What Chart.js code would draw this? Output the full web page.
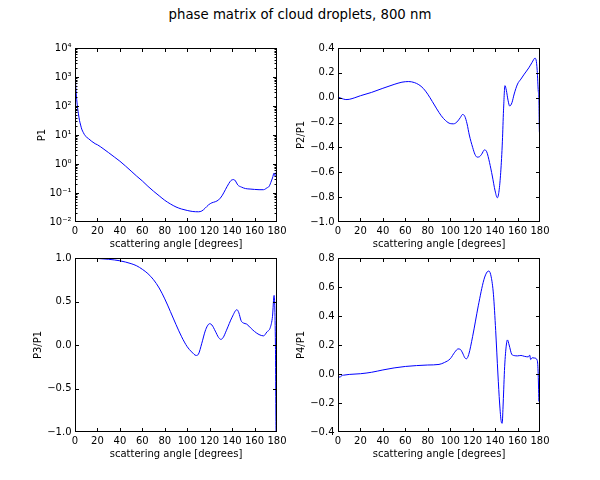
<!DOCTYPE html>
<html>
<head>
<meta charset="utf-8">
<script src="https://cdn.jsdelivr.net/npm/chart.js@4.4.1/dist/chart.umd.min.js"></script>
<style>
html,body{margin:0;padding:0;background:#fff;}
#wrap{position:relative;width:600px;height:480px;background:#fff;overflow:hidden;}
#wrap canvas{position:absolute;left:0;top:0;}
#suptitle{position:absolute;left:0;top:7px;width:600px;text-align:center;font:13.3px/16px "DejaVu Sans";color:#000;}
</style>
</head>
<body>
<div id="wrap">
<div id="suptitle">phase matrix of cloud droplets, 800 nm</div>
<canvas id="c1" width="600" height="480"></canvas>
<canvas id="c2" width="600" height="480"></canvas>
<canvas id="c3" width="600" height="480"></canvas>
<canvas id="c4" width="600" height="480"></canvas>
</div>
<script>
// ---------- data ----------
const xTickValues = [0, 20, 40, 60, 80, 100, 120, 140, 160, 180];
const xTitle = 'scattering angle [degrees]';

const p1Angle = [0,0.5,1,2,3,4,5,6,7.5,9,12,15,18,20,25,30,35,40,45,50,55,60,65,70,75,80,85,90,95,100,105,110,113,116,119,122,125,128,131,134,137,139,141.5,143,145,148.3,152,156,160,164,168,171,173,175,176,177.4,178.3,178.9,179.5,180];
const p1Value = [3000,700,300,110,56,32,22,16,12,9.5,7.5,6,5,4.6,3.4,2.45,1.75,1.25,0.85,0.57,0.38,0.26,0.17,0.115,0.08,0.056,0.042,0.033,0.028,0.025,0.023,0.0225,0.024,0.03,0.039,0.046,0.05,0.058,0.08,0.13,0.21,0.27,0.29,0.26,0.19,0.16,0.142,0.137,0.133,0.13,0.13,0.15,0.17,0.26,0.33,0.49,0.38,0.37,0.56,0.45];
const p1Decades = [-2, -1, 0, 1, 2, 3, 4];
const p1TickLabels = ['10\u207B\u00B2','10\u207B\u00B9','10\u2070','10\u00B9','10\u00B2','10\u00B3','10\u2074'];

const p2Angle = [0,3,7,10,15,20,30,40,50,57,63,68,72,76,80,84,88,92,96,100,103,106,109,111,113,115,117,120,122,124,126,128,130.5,132.5,135,137.5,140,142,143.5,145,146.5,147.5,148.8,150,151.5,153,155,157,160,163,166,170,173,175.5,176.5,177.5,178.5,179,179.5,180];
const p2Value = [0.005,-0.005,-0.015,-0.013,0.0,0.016,0.043,0.076,0.107,0.125,0.13,0.122,0.105,0.075,0.028,-0.03,-0.09,-0.145,-0.185,-0.208,-0.21,-0.195,-0.16,-0.135,-0.15,-0.21,-0.3,-0.4,-0.455,-0.478,-0.475,-0.455,-0.42,-0.435,-0.52,-0.63,-0.75,-0.805,-0.75,-0.6,-0.35,-0.1,0.097,0.06,-0.02,-0.067,-0.04,0.03,0.11,0.15,0.19,0.24,0.285,0.318,0.305,0.22,0.05,0.0,-0.28,-0.28];
const p2Ticks = [0.4, 0.2, 0.0, -0.2, -0.4, -0.6, -0.8, -1.0];

const p3Angle = [0,10,20,30,40,50,55,60,65,70,75,80,85,90,95,100,104,108,110,113,116,118,120,122,125,128,130,132,135,140,144.3,146,148,150,153,157,160,164,168,171,174,176,177.4,178,178.6,179.2,180];
const p3Value = [1.0,1.0,0.995,0.985,0.968,0.935,0.91,0.87,0.82,0.75,0.655,0.53,0.385,0.235,0.095,-0.02,-0.08,-0.12,-0.105,0.02,0.16,0.22,0.245,0.23,0.16,0.085,0.065,0.085,0.17,0.32,0.406,0.37,0.28,0.253,0.24,0.19,0.155,0.12,0.105,0.15,0.2,0.33,0.57,0.45,0.0,-1.0,-1.0];
const p3Ticks = [1.0, 0.5, 0.0, -0.5, -1.0];

const p4Angle = [0,1,2,3,5,10,20,30,40,50,60,70,80,90,95,100,104,107,109,111,113,114.5,116.5,120,125,130,133,134.5,136.5,138.5,140.5,142.5,144,145.5,146.3,147.2,148.5,150,151,152.5,154.8,157,160,163,166,169.5,170.8,171.7,173,175.3,177.5,178.3,179];
const p4Value = [0.0,-0.02,-0.022,-0.012,-0.008,-0.003,0.002,0.012,0.028,0.042,0.052,0.058,0.062,0.066,0.08,0.105,0.15,0.173,0.17,0.145,0.112,0.105,0.135,0.26,0.47,0.65,0.705,0.71,0.67,0.55,0.3,0.0,-0.2,-0.33,-0.34,-0.2,0.05,0.2,0.235,0.2,0.136,0.127,0.125,0.128,0.122,0.118,0.13,0.1,0.112,0.11,0.095,0.02,-0.19];
const p4Ticks = [0.8, 0.6, 0.4, 0.2, 0.0, -0.2, -0.4];

// ---------- helpers ----------
Chart.defaults.font.family = '"DejaVu Sans", sans-serif';
Chart.defaults.font.size = 10;
Chart.defaults.color = '#000';

function fmt1(v) {
  const s = Math.abs(v) < 1e-9 ? '0.0' : v.toFixed(1);
  return s.replace('-', '\u2212');
}

const frameTicks = {
  id: 'frameTicks',
  afterDatasetsDraw(chart) {
    const {ctx, chartArea: a, scales} = chart;
    const L = Math.round(a.left) + 0.5, R = Math.round(a.right) - 0.5;
    const T = Math.round(a.top) + 0.5, B = Math.round(a.bottom) - 0.5;
    ctx.save();
    ctx.strokeStyle = '#000';
    ctx.lineWidth = 1;
    ctx.beginPath();
    scales.x.ticks.forEach(t => {
      const p = Math.round(scales.x.getPixelForValue(t.value)) + 0.5;
      if (p <= L + 0.1 || p >= R - 0.1) return;
      ctx.moveTo(p, B); ctx.lineTo(p, B - 3.5);
      ctx.moveTo(p, T); ctx.lineTo(p, T + 3.5);
    });
    scales.y.ticks.forEach(t => {
      const p = Math.round(scales.y.getPixelForValue(t.value)) + 0.5;
      if (p <= T + 0.1 || p >= B - 0.1) return;
      const len = t.minor ? 2 : 3.5;
      ctx.moveTo(L, p); ctx.lineTo(L + len, p);
      ctx.moveTo(R, p); ctx.lineTo(R - len, p);
    });
    ctx.stroke();
    ctx.strokeRect(L, T, R - L, B - T);
    ctx.restore();
  }
};

function makeChart(id, area, xs, ys, yScaleOpts, yTitle, yTitlePad) {
  const W = 50, H = 30;
  const data = xs.map((x, i) => ({x: x, y: ys[i]}));
  return new Chart(document.getElementById(id), {
    type: 'line',
    data: {
      datasets: [{
        data: data,
        borderColor: '#0000ff',
        borderWidth: 1,
        pointRadius: 0,
        fill: false,
        cubicInterpolationMode: 'monotone'
      }]
    },
    options: {
      responsive: false,
      animation: false,
      devicePixelRatio: 1,
      layout: {
        padding: {
          left: area.left - W,
          right: 600 - area.right,
          top: area.top,
          bottom: 480 - area.bottom - H
        }
      },
      plugins: { legend: {display: false}, tooltip: {enabled: false}, title: {display: false} },
      scales: {
        x: {
          type: 'linear',
          min: 0, max: 180,
          grid: {display: false, drawTicks: false},
          border: {display: false},
          afterBuildTicks: s => { s.ticks = xTickValues.map(v => ({value: v})); },
          afterFit: s => { s.height = H; },
          ticks: { autoSkip: false, maxRotation: 0, padding: 3, callback: v => String(v) },
          title: { display: true, text: xTitle, padding: {top: 0, bottom: 1.5} }
        },
        y: Object.assign({
          grid: {display: false, drawTicks: false},
          border: {display: false},
          afterFit: s => { s.width = W; },
          title: { display: true, text: yTitle, padding: {top: yTitlePad, bottom: 0} }
        }, yScaleOpts)
      }
    },
    plugins: [frameTicks]
  });
}

const colL = {left: 75, right: 277};
const colR = {left: 338, right: 540};
const rowT = {top: 48, bottom: 222};
const rowB = {top: 258, bottom: 432};

// P1 (log)
const p1TickList = [];
p1Decades.forEach(d => {
  if (d === p1Decades[p1Decades.length - 1]) { p1TickList.push({value: Math.pow(10, d), major: true}); return; }
  for (let m = 1; m <= 9; m++) p1TickList.push({value: m * Math.pow(10, d), major: m === 1, minor: m !== 1});
});
makeChart('c1', Object.assign({}, colL, rowT), p1Angle, p1Value, {
  type: 'logarithmic',
  min: 0.01, max: 10000,
  afterBuildTicks: s => { s.ticks = p1TickList.map(t => Object.assign({}, t)); },
  ticks: {
    autoSkip: false, padding: 3.5,
    callback: (v) => {
      const d = Math.log10(v);
      const idx = p1Decades.indexOf(Math.round(d));
      return (Math.abs(d - Math.round(d)) < 1e-6 && idx >= 0) ? p1TickLabels[idx] : '';
    }
  }
}, 'P1', 11);

function linY(ticks, min, max) {
  return {
    type: 'linear', min: min, max: max,
    afterBuildTicks: s => { s.ticks = ticks.map(v => ({value: v})); },
    ticks: { autoSkip: false, padding: 3.5, callback: v => fmt1(v) }
  };
}

makeChart('c2', Object.assign({}, colR, rowT), p2Angle, p2Value, linY(p2Ticks, -1.0, 0.4), 'P2/P1', 7);
makeChart('c3', Object.assign({}, colL, rowB), p3Angle, p3Value, linY(p3Ticks, -1.0, 1.0), 'P3/P1', 7.7);
makeChart('c4', Object.assign({}, colR, rowB), p4Angle, p4Value, linY(p4Ticks, -0.4, 0.8), 'P4/P1', 7.5);
</script>
</body>
</html>
